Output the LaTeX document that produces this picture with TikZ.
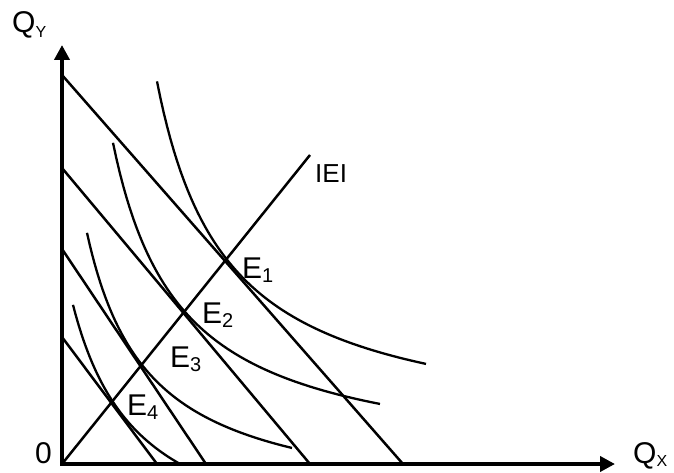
\documentclass[tikz,border=0pt]{standalone}
\usepackage{fontspec}
\setmainfont{Liberation Sans}
\usetikzlibrary{arrows.meta}
\begin{document}
\begin{tikzpicture}[x=1pt,y=1pt,
  axis/.style={line width=4pt, line join=miter, {Triangle[length=15pt,width=15pt]}-{Triangle[length=15pt,width=15pt]}},
  budget/.style={line width=2.5pt},
  indiff/.style={line width=2.3pt},
  lbl/.style={anchor=base west, inner sep=0pt, font=\fontsize{30}{31}\selectfont},
  sublbl/.style={anchor=base west, inner sep=0pt, font=\fontsize{26}{27}\selectfont}]
\useasboundingbox (-62,-8) rectangle (612,464);
% axes
\coordinate (O) at (0,0);
\coordinate (Ytip) at (0,419);
\coordinate (Xtip) at (553,0);
\draw[axis] (Ytip) -- (O) -- (Xtip);
% budget lines
\coordinate (A1) at (0,389); \coordinate (B1) at (341,0);
\coordinate (A2) at (0,296); \coordinate (B2) at (248,0);
\coordinate (A3) at (0,215); \coordinate (B3) at (144,0);
\coordinate (A4) at (0,127); \coordinate (B4) at (95,0);
\draw[budget] (A1) -- (B1);
\draw[budget] (A2) -- (B2);
\draw[budget] (A3) -- (B3);
\draw[budget] (A4) -- (B4);
% expansion path
\coordinate (R) at (248,309);
\draw[budget] (O) -- (R);
% indifference curves
\draw[indiff] plot[domain=95:364, samples=80] ({\x},{27+247.36/((\x-25.4)*0.01)});
\draw[indiff] plot[domain=51:318, samples=80] ({\x},{-5.66+219.42/((\x+16.17)*0.01)});
\draw[indiff] plot[domain=25:230, samples=80] ({\x},{-48.4+171.55/((\x+36.4)*0.01)});
\draw[indiff] plot[domain=11:118, samples=80] ({\x},{-98.1+169.69/((\x+55)*0.01)});
% labels
\node[lbl] (qy) at (-50,431) {Q\raisebox{-5pt}{\fontsize{16}{16}\selectfont Y}};
\node[lbl] (qx) at (571,1) {Q\raisebox{-3pt}{\fontsize{16}{16}\selectfont X}};
\node[lbl] (zero) at (-27,1) {0};
\node[sublbl] (iei) at (253,281) {IEI};
\node[lbl] (e1) at (180,186) {E\raisebox{-4pt}{\fontsize{20}{20}\selectfont 1}};
\node[lbl] (e2) at (140,141) {E\raisebox{-4pt}{\fontsize{20}{20}\selectfont 2}};
\node[lbl] (e3) at (108,97) {E\raisebox{-4pt}{\fontsize{20}{20}\selectfont 3}};
\node[lbl] (e4) at (65,49) {E\raisebox{-4pt}{\fontsize{20}{20}\selectfont 4}};
\end{tikzpicture}
\end{document}
